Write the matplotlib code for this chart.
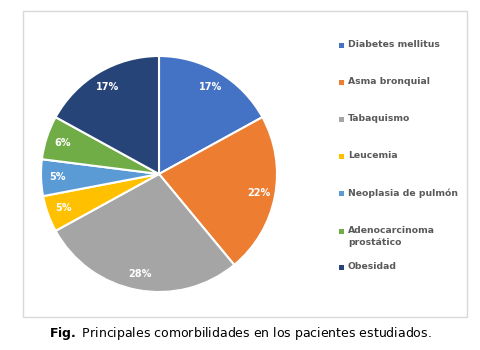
import matplotlib.pyplot as plt
from matplotlib.patches import Rectangle

labels = ["Diabetes mellitus", "Asma bronquial", "Tabaquismo", "Leucemia",
          "Neoplasia de pulmón", "Adenocarcinoma\nprostático", "Obesidad"]
values = [17, 22, 28, 5, 5, 6, 17]
colors = ["#4472C4", "#ED7D31", "#A5A5A5", "#FFC000", "#5B9BD5", "#70AD47", "#264478"]

W, H = 481, 350
fig = plt.figure(figsize=(W / 100, H / 100), dpi=100)

# chart frame
fig.patches.append(Rectangle((23 / W, 1 - 317 / H), 444 / W, 306 / H,
                             transform=fig.transFigure, fill=False,
                             edgecolor="#D9D9D9", linewidth=1))

# pie, center (159,174) px, radius 118 px
r = 118
ax = fig.add_axes([(159 - r) / W, 1 - (174 + r) / H, 2 * r / W, 2 * r / H])
wedges, texts, autotexts = ax.pie(values, colors=colors, startangle=90, counterclock=False,
                                  autopct="%d%%", pctdistance=0.86,
                                  wedgeprops=dict(edgecolor="white", linewidth=1.5),
                                  textprops=dict(color="white", fontsize=7, fontweight="bold"))
ax.set_aspect("auto")
ax.set_xlim(-1, 1)
ax.set_ylim(-1, 1)

# legend drawn by hand
ys = [45, 82, 119, 156, 193, 231, 267]
for lab, col, y in zip(labels, colors, ys):
    fig.patches.append(Rectangle((339 / W, 1 - (y + 3) / H), 5 / W, 5 / H,
                                 transform=fig.transFigure, facecolor=col, edgecolor="none"))
    fig.text(348 / W, 1 - (y - 5) / H, lab, fontsize=6.7, fontweight="bold", color="#595959",
             va="top", ha="left", linespacing=1.4)

fig.text(0.5, 1 - 333 / H, r"$\bf{Fig.}$ Principales comorbilidades en los pacientes estudiados.",
         ha="center", va="center", fontsize=9, color="black")

fig.savefig("out.png", dpi=100)
